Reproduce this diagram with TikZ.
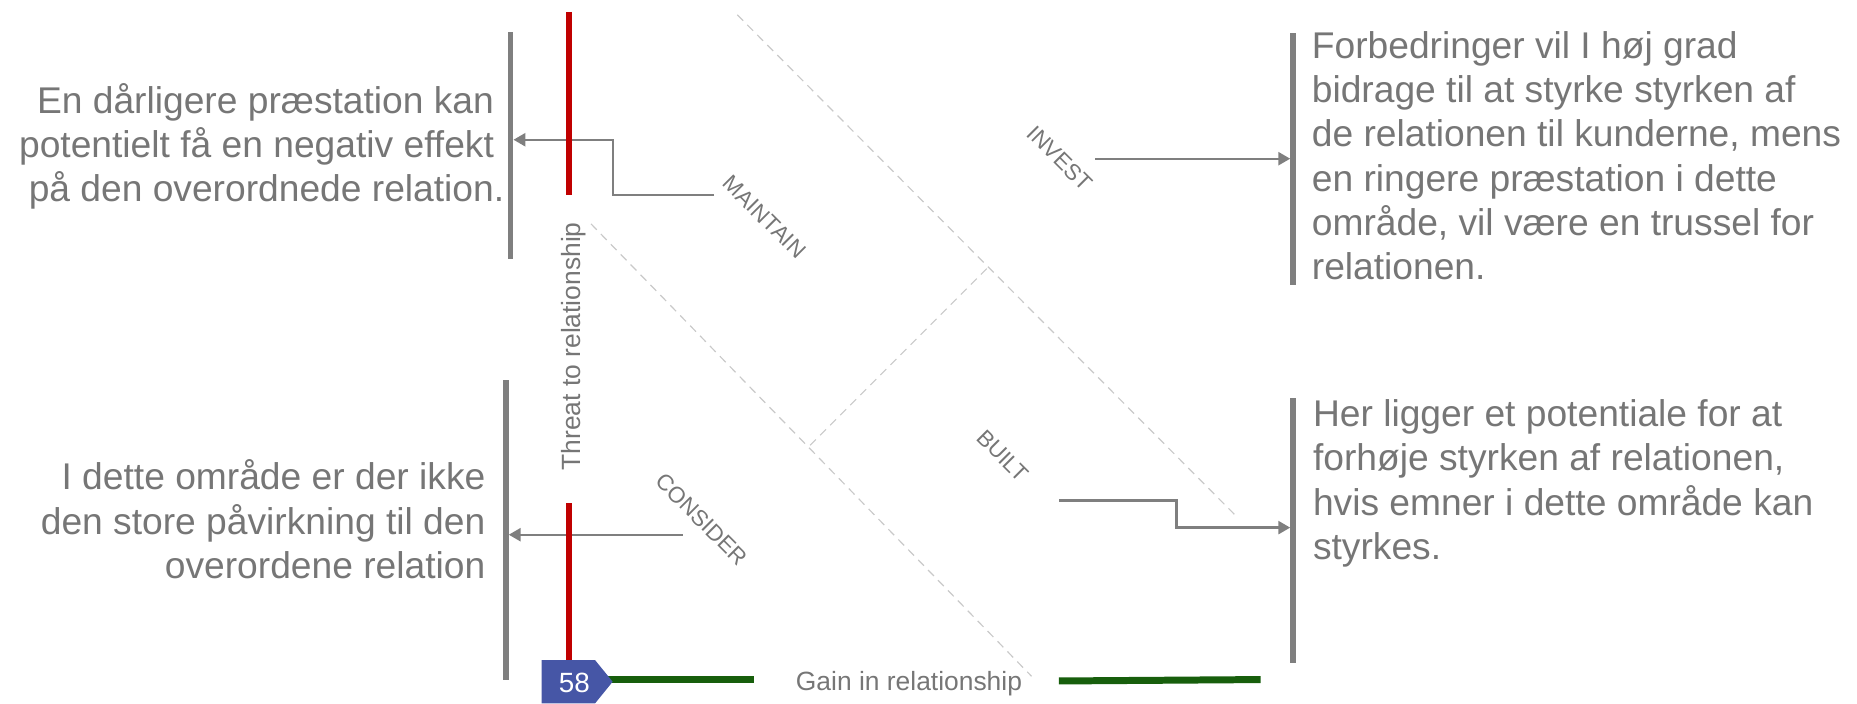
\documentclass[tikz,border=0pt]{standalone}
\usepackage{fontspec}
\setmainfont{Liberation Sans}
\usetikzlibrary{arrows.meta}
\definecolor{txtgray}{HTML}{767676}
\definecolor{bargray}{HTML}{7F7F7F}
\definecolor{dashgray}{HTML}{C9C9C9}
\definecolor{axisred}{HTML}{C00000}
\definecolor{axisgreen}{HTML}{175E0C}
\definecolor{tagblue}{HTML}{4656A6}
\newcommand{\bigfont}{\fontsize{31.4}{37.3}\selectfont}
\begin{document}
\begin{tikzpicture}[x=1pt,y=-1pt,
  bigtext/.style={text=txtgray,inner sep=0pt,font=\bigfont},
  quadlabel/.style={text=txtgray,inner sep=0pt,font=\fontsize{19}{22}\selectfont,rotate=-45},
  axislabel/.style={text=txtgray,inner sep=0pt,font=\fontsize{22.3}{26}\selectfont},
  barnode/.style={fill=bargray,draw=none,inner sep=0pt,minimum width=4.8pt},
  threat/.style={draw=axisred,line width=5.6pt},
  gain/.style={draw=axisgreen,line width=5.9pt},
  guide/.style={draw=dashgray,line width=1pt,dash pattern=on 7pt off 5pt},
  conn/.style={draw=bargray,line width=2pt,-{Triangle[length=10pt,width=11pt]}},
]
\useasboundingbox (0,0) rectangle (1568,594);
% dashed quadrant guides
\draw[guide] (622.5,12.5) -- (1044,436);
\draw[guide] (499,189) -- (871,571);
\draw[guide] (684,376) -- (835,225);
% bars
\node[barnode,minimum height=192.3pt] (barTL) at (431,122.9) {};
\node[barnode,minimum height=253pt] (barBL) at (427,447.5) {};
\node[barnode,minimum height=213pt] (barTR) at (1092,134.5) {};
\node[barnode,minimum height=224pt] (barBR) at (1092,448) {};
% connectors
\coordinate (mStart) at (603,164.7);
\coordinate (mTurn) at (517.5,118);
\draw[conn] (mStart) -| (mTurn) -- (mTurn -| barTL.east);
\coordinate (iStart) at (924.6,134);
\draw[conn] (iStart) -- (iStart -| barTR.west);
\coordinate (cStart) at (576.4,451.5);
\draw[conn] (cStart) -- (cStart -| barBL.east);
\coordinate (bStart) at (894.5,422.5);
\coordinate (bTurn) at (993.5,445.5);
\draw[conn] (bStart) -| (bTurn) -- (bTurn -| barBR.west);
% axes
\draw[threat] (480.4,10) -- (480.4,164.7);
\draw[threat] (480.4,425) -- (480.4,558);
\draw[gain] (513,573.8) -- (636.7,573.8);
\draw[gain] (894,575) -- (1064.5,573.8);
% page tag
\fill[tagblue] (457.4,557.3) -- (502.4,557.3) -- (517.3,575.6) -- (502.4,594) -- (457.4,594) -- cycle;
\node[text=white,inner sep=0pt,font=\fontsize{23.5}{26}\selectfont] (tag) at (485,577) {58};
% axis labels
\node[axislabel,anchor=base,rotate=90] (threatLbl) at (490,292.5) {Threat to relationship};
\node[axislabel,anchor=base] (gainLbl) at (767.5,582.7) {Gain in relationship};
% quadrant labels
\node[quadlabel] (lMaintain) at (645.6,183) {MAINTAIN};
\node[quadlabel] (lInvest) at (895,133.7) {INVEST};
\node[quadlabel] (lConsider) at (592.7,438.4) {CONSIDER};
\node[quadlabel] (lBuilt) at (846.7,384.7) {BUILT};
% explanatory texts
\node[bigtext,anchor=base east] (txtTL) at (426,95.7) {\begin{tabular}[t]{@{}r@{}}En dårligere præstation kan\kern.278em\\ potentielt få en negativ effekt\kern.278em\\ på den overordnede relation.\end{tabular}};
\node[bigtext,anchor=base east] (txtBL) at (410,413.7) {\begin{tabular}[t]{@{}r@{}}I dette område er der ikke\\ den store påvirkning til den\\ overordene relation\end{tabular}};
\node[bigtext,anchor=base west] (txtTR) at (1107.5,49.5) {\begin{tabular}[t]{@{}l@{}}Forbedringer vil I høj grad\\ bidrage til at styrke styrken af\\ de relationen til kunderne, mens\\ en ringere præstation i dette\\ område, vil være en trussel for\\ relationen.\end{tabular}};
\node[bigtext,anchor=base west] (txtBR) at (1108.5,360.3) {\begin{tabular}[t]{@{}l@{}}Her ligger et potentiale for at\\ forhøje styrken af relationen,\\ hvis emner i dette område kan\\ styrkes.\end{tabular}};
\end{tikzpicture}
\end{document}
